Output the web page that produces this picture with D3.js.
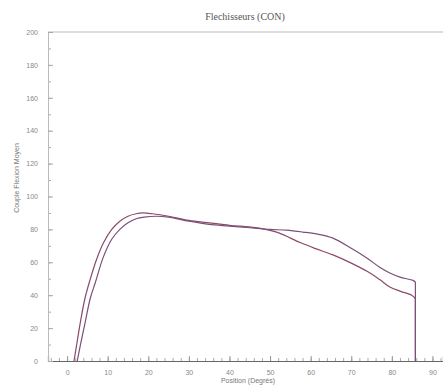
<!DOCTYPE html>
<html>
<head>
<meta charset="utf-8">
<script src="https://cdn.jsdelivr.net/npm/d3@7"></script>
<style>
body { margin:0; background:#fff; }
svg { display:block; }
</style>
</head>
<body>
<svg id="graph"></svg>
<script>
// curve 1 (rises first, ends lower)
var posA = [1.7,2.5,3.3,4.4,5.5,7.3,9,11,13,15,17,18.7,21,25,30,35,40,45,48,52,57.4,61,65.5,70,73.9,77,79.5,82,84.9,85.8,85.8];
var valA = [0,12,24,38,48,62,72,80,85,88,89.5,90,89.5,88,85.5,84,82.5,81.5,80.5,78,72,68.5,64.5,59.5,54.5,49.5,45,42.5,40,38,0];
// curve 2
var posB = [2.5,3.3,4.5,5.7,7,8.9,11,13,15,17,19,22,25,30,35,40,45,50,54,58,62,65.5,70,73.9,77,79.5,82,85.2,85.8,85.8];
var valB = [0,10,24,38,48,63,74,80,84,86.5,87.5,88,87.5,85,83,82,81,80,79.5,78.4,77,74.7,68.5,62.5,57,53.5,51,49,48,0];
var xTicks = [0,10,20,30,40,50,60,70,80,90];
var yTicks = [0,20,40,60,80,100,120,140,160,180,200];

var screen = {width:443, height:388};
var margins = {top:32, bottom:27, left:48, right:0};

var svg = d3.select("#graph")
    .attr("width",screen.width)
    .attr("height",screen.height);

var xScale = d3.scaleLinear()
    .domain([-4.7,92.6])
    .range([margins.left, screen.width-margins.right]);
var yScale = d3.scaleLinear()
    .domain([0,200])
    .range([screen.height-margins.bottom, margins.top]);

// title
svg.append("text")
    .attr("x",245).attr("y",20)
    .attr("text-anchor","middle")
    .style("font-family","'Liberation Serif', serif")
    .style("font-size","10px")
    .attr("fill","#555")
    .text("Flechisseurs (CON)");

// top frame line
svg.append("line")
    .attr("x1",margins.left).attr("x2",screen.width)
    .attr("y1",yScale(200)).attr("y2",yScale(200))
    .attr("stroke","#bbb").attr("stroke-width",1);

// minor ticks
svg.append("g")
    .attr("transform","translate(0,"+yScale(0)+")")
    .call(d3.axisBottom(xScale).tickValues(d3.range(-4,93,2)).tickSize(-3).tickFormat(""))
    .call(function(g){ g.select(".domain").remove(); })
    .selectAll("line").attr("stroke","#aaa");
svg.append("g")
    .attr("transform","translate("+margins.left+",0)")
    .call(d3.axisLeft(yScale).tickValues(d3.range(0,201,10)).tickSize(-3).tickFormat(""))
    .call(function(g){ g.select(".domain").remove(); })
    .selectAll("line").attr("stroke","#aaa");

// x axis
var xAxis = svg.append("g")
    .attr("transform","translate(0,"+yScale(0)+")")
    .call(d3.axisBottom(xScale).tickValues(xTicks).tickSize(-5).tickPadding(9));
xAxis.select(".domain").attr("stroke","#666").attr("stroke-width",1.2);
xAxis.selectAll("line").attr("stroke","#999");
xAxis.selectAll("text").attr("fill","#888")
    .style("font-family","'Liberation Sans', sans-serif").style("font-size","7px");

// y axis
var yAxis = svg.append("g")
    .attr("transform","translate("+margins.left+",0)")
    .call(d3.axisLeft(yScale).tickValues(yTicks).tickSize(-5).tickPadding(10));
yAxis.select(".domain").attr("stroke","#bbb");
yAxis.selectAll("line").attr("stroke","#aaa");
yAxis.selectAll("text").attr("fill","#888")
    .style("font-family","'Liberation Sans', sans-serif").style("font-size","7px");

// axis titles
svg.append("text")
    .attr("x",248).attr("y",383)
    .attr("text-anchor","middle")
    .style("font-family","'Liberation Sans', sans-serif")
    .style("font-size","7px")
    .attr("fill","#777")
    .text("Position (Degrés)");
svg.append("text")
    .attr("transform","translate(19,178) rotate(-90)")
    .attr("text-anchor","middle")
    .style("font-family","'Liberation Sans', sans-serif")
    .style("font-size","7px")
    .attr("fill","#777")
    .text("Couple Flexion Moyen");

// curves: smooth part, then straight drop to zero
var smooth = d3.line()
    .x(function(d){ return xScale(d[0]); })
    .y(function(d){ return yScale(d[1]); })
    .curve(d3.curveCatmullRom.alpha(0.5));
var straight = d3.line()
    .x(function(d){ return xScale(d[0]); })
    .y(function(d){ return yScale(d[1]); });

var series = [
    {pts: d3.zip(posA,valA), color:"#8c4a6a"},
    {pts: d3.zip(posB,valB), color:"#7a5078"}
];
var curves = svg.selectAll("g.curve")
    .data(series)
    .enter()
    .append("g")
    .classed("curve",true);
curves.append("path")
    .attr("d",function(s){ return smooth(s.pts.slice(0,-1)); });
curves.append("path")
    .attr("d",function(s){ return straight(s.pts.slice(-2)); });
curves.selectAll("path")
    .attr("fill","none")
    .attr("stroke",function(){ return d3.select(this.parentNode).datum().color; })
    .attr("stroke-width",1.2)
    .attr("stroke-linejoin","round");
</script>
</body>
</html>
